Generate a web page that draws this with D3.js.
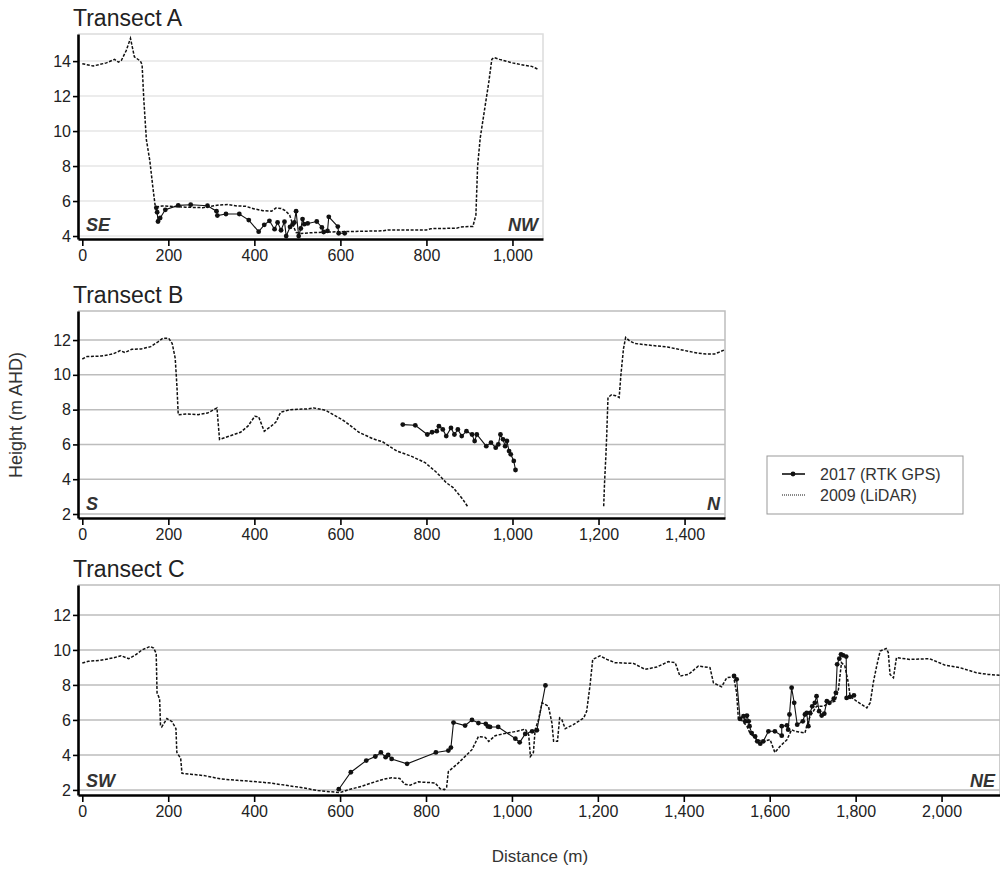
<!DOCTYPE html>
<meta charset="utf-8">
<head>
    <title>Transects</title>
    <script src="https://cdn.jsdelivr.net/npm/d3@7"></script>
</head>

<style>
    body { margin: 0; background: #fff; }
    svg { font-family: "Liberation Sans", Arial, sans-serif; }
    .lidar { fill: none; stroke: #111; stroke-width: 1.5; stroke-dasharray: 3,1.6; }
    .gps { fill: none; stroke: #111; stroke-width: 1.1; }
    .dot { fill: #111; }
    .axis path, .axis line { stroke: #000; }
    .axis path { stroke-width: 2.6; }
    .axis line { stroke-width: 1.6; }
    .axis text { font-size: 16px; fill: #222; }
    .dir { font-size: 18px; font-weight: bold; font-style: italic; fill: #333; }
    .title { font-size: 23px; fill: #222; }
</style>

<svg width="1000" height="871"></svg>

<script>
    // Transect A (distance m, height m AHD)
    var lidarA = [[0,13.85],[25,13.72],[56,13.9],[75,14.1],[84,13.94],[91,14.05],[102,14.6],[112,15.3],[121,14.25],[135,14.0],[139,13.8],[143,11.8],[149,9.5],[157,8.3],[164,6.8],[169,5.8],[172,5.65],[185,5.72],[200,5.7],[240,5.65],[280,5.62],[300,5.7],[320,5.78],[340,5.8],[360,5.72],[380,5.7],[400,5.55],[420,5.45],[440,5.42],[450,5.6],[462,5.58],[472,5.45],[482,5.2],[490,4.6],[497,4.2],[510,4.15],[540,4.2],[600,4.25],[650,4.27],[700,4.3],[710,4.35],[800,4.35],[810,4.42],[870,4.45],[880,4.52],[908,4.55],[915,5.2],[919,8.0],[925,9.6],[935,11.2],[945,12.8],[952,14.1],[957,14.2],[970,14.1],[1000,13.9],[1030,13.75],[1045,13.7],[1058,13.55]];
    var gpsA = [[172,5.61],[174,5.36],[176,4.83],[181,5.03],[193,5.5],[223,5.75],[252,5.79],[291,5.73],[312,5.42],[314,5.17],[334,5.26],[365,5.26],[387,4.91],[410,4.25],[423,4.64],[435,4.87],[447,4.39],[454,4.78],[462,4.33],[470,4.82],[474,4.0],[483,4.52],[489,4.68],[493,4.78],[497,5.42],[503,4.0],[508,4.43],[512,4.97],[516,4.68],[524,4.72],[545,4.83],[557,4.49],[561,4.23],[570,4.29],[573,5.1],[594,4.54],[596,4.16],[610,4.16]];

    // Transect B (LiDAR has a gap between ~900 m and ~1212 m)
    var lidarB1 = [[0,10.91],[11,11.05],[44,11.08],[71,11.2],[88,11.39],[99,11.28],[115,11.47],[137,11.49],[159,11.62],[176,11.9],[187,12.1],[201,12.1],[209,11.8],[216,10.95],[220,9.33],[223,7.71],[242,7.75],[269,7.71],[291,7.8],[313,8.1],[319,6.29],[346,6.51],[368,6.7],[385,7.05],[401,7.62],[410,7.58],[423,6.76],[439,7.05],[450,7.28],[461,7.85],[484,8.0],[522,8.04],[538,8.1],[566,7.96],[610,7.33],[643,6.7],[676,6.32],[698,6.15],[731,5.62],[764,5.33],[797,4.95],[824,4.38],[846,3.8],[862,3.52],[884,2.86],[897,2.38]];
    var lidarB2 = [[1212,2.45],[1214,3.8],[1217,5.3],[1219,6.5],[1222,8.7],[1230,8.85],[1240,8.8],[1248,8.7],[1252,10.0],[1258,11.5],[1263,12.15],[1272,11.95],[1285,11.8],[1320,11.7],[1360,11.6],[1390,11.45],[1410,11.35],[1430,11.25],[1450,11.2],[1470,11.2],[1480,11.3],[1494,11.45]];
    var gpsB = [[745,7.14],[774,7.1],[802,6.57],[813,6.7],[824,6.76],[829,7.05],[838,6.86],[846,6.48],[857,6.95],[865,6.57],[873,6.86],[882,6.48],[893,6.76],[906,6.57],[912,6.19],[917,6.57],[939,5.9],[950,6.1],[961,5.81],[967,6.0],[972,6.57],[978,6.29],[983,5.9],[987,6.2],[992,5.62],[996,5.43],[1003,5.05],[1007,4.53]];

    // Transect C
    var lidarC = [[0,9.25],[14,9.35],[41,9.4],[73,9.55],[90,9.67],[108,9.5],[123,9.7],[139,10.0],[158,10.2],[166,10.1],[172,9.8],[174,7.55],[180,7.2],[182,5.7],[185,5.6],[197,6.08],[209,5.9],[218,5.5],[220,4.15],[229,3.8],[232,2.95],[252,2.9],[283,2.82],[322,2.63],[361,2.55],[400,2.48],[439,2.39],[478,2.25],[517,2.11],[548,1.96],[587,1.88],[600,1.85],[618,2.0],[649,2.2],[673,2.4],[704,2.63],[720,2.7],[739,2.65],[751,2.32],[763,2.27],[782,2.46],[821,2.4],[833,2.07],[843,2.02],[848,2.16],[852,3.05],[875,3.53],[907,4.3],[922,5.05],[938,5.0],[946,4.77],[961,5.1],[988,5.25],[1012,5.35],[1031,5.48],[1039,5.16],[1043,3.91],[1050,4.14],[1054,5.44],[1062,6.02],[1070,6.98],[1085,6.78],[1093,5.83],[1097,4.78],[1106,4.78],[1111,6.11],[1116,6.02],[1124,5.5],[1143,5.73],[1167,6.11],[1174,6.5],[1182,8.03],[1188,9.46],[1205,9.66],[1221,9.46],[1240,9.27],[1283,9.23],[1310,8.89],[1337,9.02],[1364,9.33],[1380,9.27],[1391,8.51],[1411,8.6],[1434,9.08],[1461,8.99],[1469,8.12],[1488,7.89],[1500,8.41],[1516,8.47],[1523,7.55],[1527,6.06],[1533,6.02],[1547,5.64],[1554,5.25],[1570,4.87],[1585,4.78],[1601,4.87],[1612,4.14],[1624,4.49],[1640,4.87],[1651,5.44],[1659,5.35],[1682,5.25],[1686,5.64],[1694,6.21],[1709,6.78],[1725,6.78],[1740,6.98],[1752,7.07],[1760,7.74],[1767,9.27],[1775,9.08],[1783,8.12],[1787,7.36],[1802,7.07],[1826,6.69],[1834,6.98],[1841,8.12],[1849,9.08],[1857,9.94],[1871,10.08],[1876,9.85],[1880,8.6],[1888,8.41],[1895,9.56],[1926,9.46],[1972,9.5],[2007,9.14],[2042,8.99],[2081,8.7],[2108,8.6],[2136,8.55]];
    var gpsC1 = [[597,2.04],[625,3.01],[661,3.68],[682,3.91],[695,4.14],[706,3.87],[712,4.0],[720,3.77],[756,3.49],[823,4.14],[852,4.25],[858,4.42],[864,5.85],[891,5.68],[907,6.0],[922,5.82],[939,5.78],[944,5.63],[949,5.6],[968,5.6],[1008,4.93],[1018,4.72],[1031,5.2],[1047,5.35],[1058,5.41],[1078,7.97]];
    var gpsC2 = [[1517,8.51],[1523,8.32],[1531,6.06],[1539,6.21],[1543,5.92],[1547,6.25],[1551,5.92],[1553,5.64],[1558,5.25],[1566,5.06],[1571,4.78],[1578,4.64],[1585,4.78],[1597,5.35],[1612,5.35],[1628,5.1],[1628,5.64],[1640,5.69],[1643,5.44],[1646,6.31],[1651,7.84],[1657,6.98],[1664,5.73],[1677,5.92],[1682,6.31],[1686,6.4],[1690,5.64],[1694,6.4],[1699,6.78],[1705,6.98],[1709,7.36],[1715,6.5],[1721,6.25],[1727,6.36],[1733,7.07],[1739,6.98],[1749,7.21],[1754,7.55],[1757,9.18],[1762,9.5],[1766,9.75],[1771,9.69],[1778,9.62],[1779,7.26],[1787,7.32],[1796,7.4]];

    // Axes
    var yTicksA = [4, 6, 8, 10, 12, 14];
    var yTicksBC = [2, 4, 6, 8, 10, 12];
    var xTicksA = [0, 200, 400, 600, 800, 1000];
    var xTicksB = [0, 200, 400, 600, 800, 1000, 1200, 1400];
    var xTicksC = [0, 200, 400, 600, 800, 1000, 1200, 1400, 1600, 1800, 2000];

    var panels = [
        {title: "Transect A", left: 78, top: 34, right: 543, bottom: 239, xDom: [-10, 1071], yDom: [3.83, 15.55],
         lidar: [lidarA], gps: [gpsA], yTicks: yTicksA, xTicks: xTicksA, grid: "#e6e6e6", frame: "#dcdcdc", dirs: ["SE", "NW"]},
        {title: "Transect B", left: 78, top: 311, right: 725, bottom: 518, xDom: [-10, 1494], yDom: [1.77, 13.67],
         lidar: [lidarB1, lidarB2], gps: [gpsB], yTicks: yTicksBC, xTicks: xTicksB, grid: "#bdbdbd", frame: "#bdbdbd", dirs: ["S", "N"]},
        {title: "Transect C", left: 78, top: 585, right: 1000, bottom: 795, xDom: [-10, 2136], yDom: [1.71, 13.71],
         lidar: [lidarC], gps: [gpsC1, gpsC2], yTicks: yTicksBC, xTicks: xTicksC, grid: "#bdbdbd", frame: "#bdbdbd", dirs: ["SW", "NE"]}
    ];

    var svg = d3.select("svg");

    panels.forEach(function (p, i) {
        var x = d3.scaleLinear().domain(p.xDom).range([p.left, p.right]);
        var y = d3.scaleLinear().domain(p.yDom).range([p.bottom, p.top]);
        var g = svg.append("g");

        g.append("clipPath").attr("id", "clip" + i)
            .append("rect").attr("x", p.left).attr("y", p.top)
            .attr("width", p.right - p.left).attr("height", p.bottom - p.top);

        // grid + frame
        g.selectAll(".gl").data(p.yTicks).enter().append("line")
            .attr("x1", p.left).attr("x2", p.right)
            .attr("y1", function (d) { return y(d); }).attr("y2", function (d) { return y(d); })
            .attr("stroke", p.grid).attr("stroke-width", 1.5);
        g.append("path")
            .attr("d", "M" + p.left + "," + p.top + "H" + p.right + "V" + p.bottom)
            .attr("fill", "none").attr("stroke", p.frame).attr("stroke-width", 1.5);

        var line = d3.line().x(function (d) { return x(d[0]); }).y(function (d) { return y(d[1]); });
        var plot = g.append("g").attr("clip-path", "url(#clip" + i + ")");

        p.lidar.forEach(function (s) {
            plot.append("path").attr("class", "lidar").attr("d", line(s));
        });
        p.gps.forEach(function (s) {
            plot.append("path").attr("class", "gps").attr("d", line(s));
            plot.selectAll(null).data(s).enter().append("circle").attr("class", "dot")
                .attr("cx", function (d) { return x(d[0]); })
                .attr("cy", function (d) { return y(d[1]); })
                .attr("r", 2.4);
        });

        // axes
        g.append("g").attr("class", "axis")
            .attr("transform", "translate(" + p.left + ",0)")
            .call(d3.axisLeft(y).tickValues(p.yTicks).tickSize(5).tickSizeOuter(0).tickPadding(2));
        g.append("g").attr("class", "axis")
            .attr("transform", "translate(0," + p.bottom + ")")
            .call(d3.axisBottom(x).tickValues(p.xTicks).tickFormat(d3.format(",")).tickSize(7).tickSizeOuter(0).tickPadding(4));

        g.append("text").attr("class", "title").attr("x", p.left - 5).attr("y", p.top - 8).text(p.title);
        g.append("text").attr("class", "dir").attr("x", p.left + 8).attr("y", p.bottom - 8).text(p.dirs[0]);
        g.append("text").attr("class", "dir").attr("x", p.right - 5).attr("y", p.bottom - 8)
            .attr("text-anchor", "end").text(p.dirs[1]);
    });

    // axis titles
    svg.append("text").attr("transform", "translate(22,415) rotate(-90)")
        .attr("text-anchor", "middle").style("font-size", "18px").attr("fill", "#333")
        .text("Height (m AHD)");
    svg.append("text").attr("x", 540).attr("y", 862)
        .attr("text-anchor", "middle").style("font-size", "17px").attr("fill", "#333")
        .text("Distance (m)");

    // legend
    var lg = svg.append("g").attr("transform", "translate(767,456)");
    lg.append("rect").attr("width", 196).attr("height", 58)
        .attr("fill", "#fff").attr("stroke", "#999").attr("stroke-width", 1);
    lg.append("line").attr("x1", 15).attr("x2", 38).attr("y1", 18).attr("y2", 18)
        .attr("stroke", "#111").attr("stroke-width", 1.6);
    lg.append("circle").attr("cx", 26).attr("cy", 18).attr("r", 2.4).attr("fill", "#111");
    lg.append("line").attr("x1", 15).attr("x2", 38).attr("y1", 39).attr("y2", 39)
        .attr("stroke", "#111").attr("stroke-width", 1).attr("stroke-dasharray", "1,1");
    lg.append("text").attr("x", 53).attr("y", 18).attr("dy", "0.35em")
        .style("font-size", "16px").attr("fill", "#333").text("2017 (RTK GPS)");
    lg.append("text").attr("x", 53).attr("y", 39).attr("dy", "0.35em")
        .style("font-size", "16px").attr("fill", "#333").text("2009 (LiDAR)");
</script>
